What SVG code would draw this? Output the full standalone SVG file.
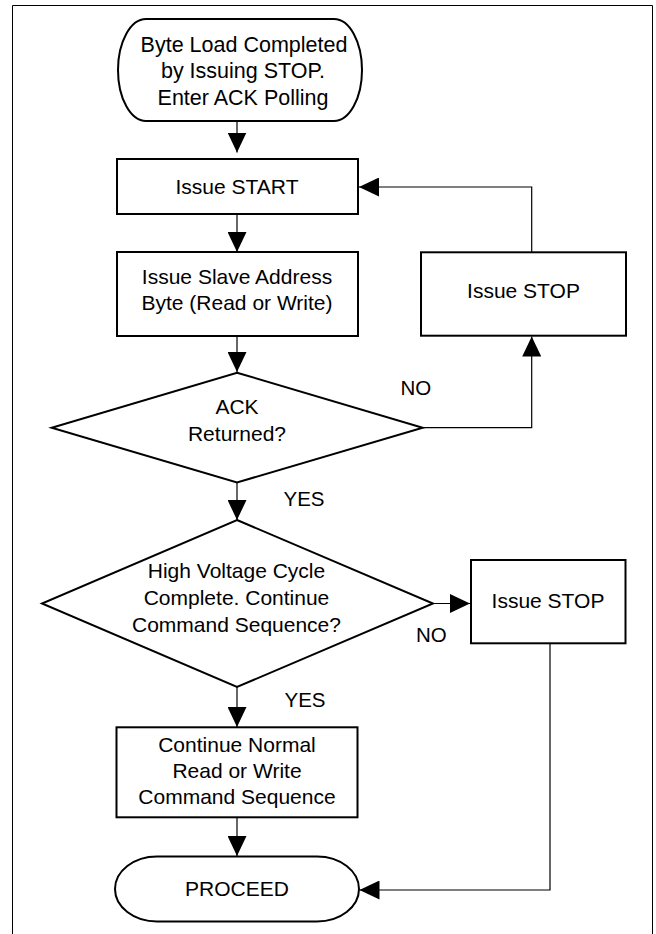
<svg xmlns="http://www.w3.org/2000/svg" width="656" height="934" viewBox="0 0 656 934">
<defs>
<style>
.n{fill:#fff;stroke:#000;stroke-width:2}
.c{fill:none;stroke:#000;stroke-width:1.2}
text{font-family:"Liberation Sans",Arial,sans-serif;font-size:21px;fill:#000}
.m{text-anchor:middle}
.t{font-size:21.5px}
.l{font-size:20.5px}
</style>
<marker id="ah" markerUnits="userSpaceOnUse" markerWidth="20" markerHeight="19" refX="20" refY="9.5" orient="auto">
<path d="M0,0 L20,9.5 L0,19 z" fill="#000"/>
</marker>
</defs>
<rect width="656" height="934" fill="#fff"/>
<path d="M12.5,945 V5.5 H652.5 V945" fill="none" stroke="#000" stroke-width="1"/>

<g id="connectors">
<line class="c" x1="237" y1="121" x2="237" y2="152.5" marker-end="url(#ah)"/>
<line class="c" x1="237" y1="215" x2="237" y2="252" marker-end="url(#ah)"/>
<line class="c" x1="237" y1="336" x2="237" y2="372" marker-end="url(#ah)"/>
<line class="c" x1="237" y1="483" x2="237" y2="520" marker-end="url(#ah)"/>
<polyline class="c" points="423,427.7 531.7,427.7 531.7,336.5" marker-end="url(#ah)"/>
<polyline class="c" points="531.7,252 531.7,187 359,187" marker-end="url(#ah)"/>
<line class="c" x1="433" y1="603.5" x2="470" y2="603.5" marker-end="url(#ah)"/>
<line class="c" x1="237" y1="687" x2="237" y2="727" marker-end="url(#ah)"/>
<line class="c" x1="237" y1="818" x2="237" y2="856" marker-end="url(#ah)"/>
<polyline class="c" points="550,644 550,890 359.5,890" marker-end="url(#ah)"/>
</g>

<g id="start">
<rect class="n" x="118" y="19" width="244" height="102" rx="28" ry="51"/>
<text class="m t" x="244" y="51.5">Byte Load Completed</text>
<text class="m t" x="243" y="78">by Issuing STOP.</text>
<text class="m t" x="243" y="104.5">Enter ACK Polling</text>
</g>

<g id="issue-start">
<rect class="n" x="117" y="159" width="241" height="55"/>
<text class="m" x="237" y="194">Issue START</text>
</g>

<g id="slave-address">
<rect class="n" x="117" y="252" width="241" height="84"/>
<text class="m" x="237" y="283.5">Issue Slave Address</text>
<text class="m" x="237" y="310">Byte (Read or Write)</text>
</g>

<g id="ack-returned">
<polygon class="n" points="237,372.7 422.7,427.7 237,482.5 51.7,427.7"/>
<text class="m" x="237" y="414">ACK</text>
<text class="m" x="237" y="441">Returned?</text>
</g>

<g id="issue-stop-1">
<rect class="n" x="421" y="252.3" width="205" height="83.4"/>
<text class="m" x="523.5" y="298.3">Issue STOP</text>
</g>

<g id="hv-cycle">
<polygon class="n" points="237,520 433,603.5 237,687 42,603.5"/>
<text class="m" x="236.5" y="578">High Voltage Cycle</text>
<text class="m" x="236.5" y="605">Complete. Continue</text>
<text class="m" x="236.5" y="631.7">Command Sequence?</text>
</g>

<g id="issue-stop-2">
<rect class="n" x="471" y="560" width="154.5" height="83.3"/>
<text class="m" x="548" y="608">Issue STOP</text>
</g>

<g id="continue-normal">
<rect class="n" x="116.5" y="727.3" width="241" height="90"/>
<text class="m" x="237" y="752.3">Continue Normal</text>
<text class="m" x="237" y="778.3">Read or Write</text>
<text class="m" x="237" y="804.3">Command Sequence</text>
</g>

<g id="proceed">
<rect class="n" x="115" y="856.5" width="244" height="65" rx="42" ry="32.5"/>
<text class="m" x="237" y="896">PROCEED</text>
</g>

<g id="labels">
<text class="l" x="400.5" y="395">NO</text>
<text class="l" x="283.5" y="506">YES</text>
<text class="l" x="416" y="641.7">NO</text>
<text class="l" x="284.5" y="706.7">YES</text>
</g>
</svg>
